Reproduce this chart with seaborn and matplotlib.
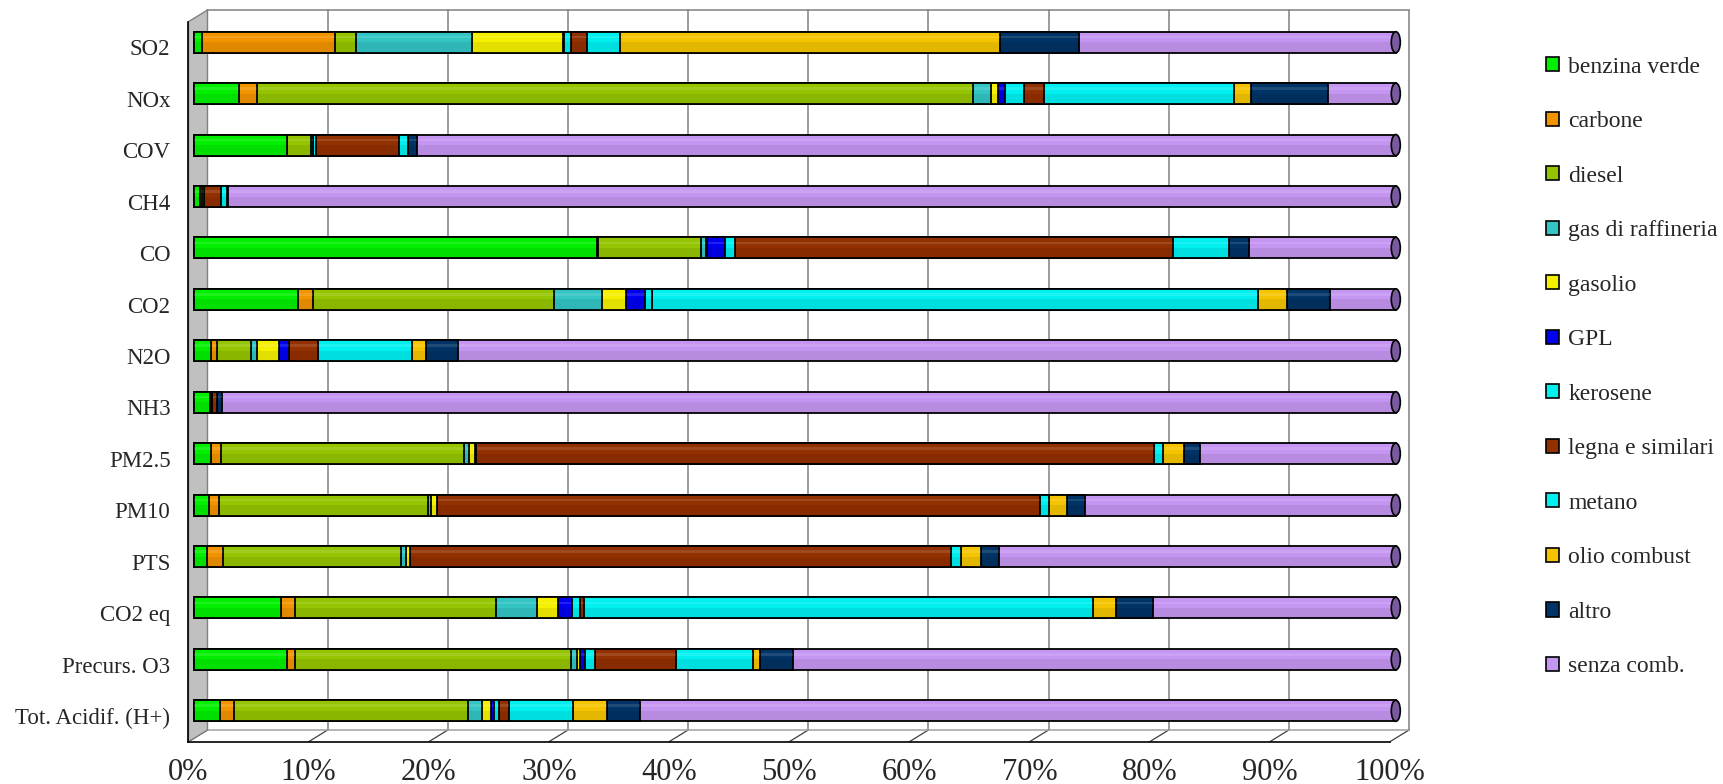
import matplotlib
matplotlib.use("Agg")
import matplotlib.pyplot as plt
import matplotlib.transforms as mtransforms
from matplotlib.patches import Patch, Polygon, Rectangle, Ellipse
from matplotlib.ticker import MultipleLocator, PercentFormatter
import seaborn as sns
import pandas as pd

# Emission shares by source (%), top row first
categories = ["SO2", "NOx", "COV", "CH4", "CO", "CO2", "N2O", "NH3",
              "PM2.5", "PM10", "PTS", "CO2 eq", "Precurs. O3", "Tot. Acidif. (H+)"]

benzina_verde = [0.65, 3.76, 7.7, 0.5, 33.6, 8.6, 1.39, 1.33, 1.42, 1.25, 1.04, 7.2, 7.7, 2.16]
carbone = [11.05, 1.48, 0.05, 0.1, 0.05, 1.27, 0.47, 0.05, 0.8, 0.83, 1.33, 1.16, 0.65, 1.18]
diesel = [1.74, 59.5, 1.96, 0.2, 8.6, 20.05, 2.87, 0.1, 20.2, 17.4, 14.8, 16.76, 23.0, 19.4]
gas_raffineria = [9.66, 1.53, 0.15, 0.0, 0.4, 4.0, 0.45, 0.0, 0.44, 0.25, 0.44, 3.38, 0.44, 1.18]
gasolio = [7.64, 0.58, 0.0, 0.0, 0.1, 1.98, 1.87, 0.0, 0.53, 0.45, 0.3, 1.72, 0.3, 0.74]
gpl = [0.05, 0.62, 0.0, 0.0, 1.48, 1.58, 0.8, 0.0, 0.05, 0.05, 0.05, 1.18, 0.44, 0.3]
kerosene = [0.6, 1.53, 0.3, 0.0, 0.86, 0.6, 0.0, 0.0, 0.0, 0.0, 0.0, 0.65, 0.8, 0.44]
legna = [1.33, 1.68, 6.9, 1.4, 36.5, 0.0, 2.46, 0.4, 56.5, 50.2, 45.0, 0.39, 6.7, 0.83]
metano = [2.75, 15.8, 0.75, 0.5, 4.67, 50.5, 7.82, 0.0, 0.73, 0.73, 0.8, 42.3, 6.44, 5.33]
olio_combust = [31.6, 1.46, 0.0, 0.0, 0.0, 2.37, 1.12, 0.0, 1.72, 1.57, 1.68, 1.9, 0.62, 2.82]
altro = [6.57, 6.33, 0.74, 0.1, 1.65, 3.57, 2.67, 0.4, 1.35, 1.46, 1.54, 3.1, 2.74, 2.72]
senza_comb = [26.4, 5.68, 81.5, 97.2, 12.25, 5.5, 78.06, 97.72, 16.3, 25.9, 33.0, 20.2, 50.1, 62.9]

series_names = ["benzina verde", "carbone", "diesel", "gas di raffineria", "gasolio", "GPL",
                "kerosene", "legna e similari", "metano", "olio combust", "altro", "senza comb."]
colors = ["#00F000", "#F29400", "#95C400", "#33C4C4", "#F5F000", "#0000F0",
          "#00F0F0", "#933000", "#00F0F0", "#F5C400", "#003366", "#C496F2"]

df = pd.DataFrame(dict(zip(series_names, [benzina_verde, carbone, diesel, gas_raffineria, gasolio, gpl,
                                          kerosene, legna, metano, olio_combust, altro, senza_comb])),
                  index=categories)
# 100% stacked: normalise each row, then accumulate left to right
shares = df.div(df.sum(axis=1), axis=0) * 100
cum = shares.cumsum(axis=1)

sns.set_style("white")
plt.rcParams["font.family"] = ["Liberation Serif", "DejaVu Serif"]

fig = plt.figure(figsize=(17.24, 7.84), dpi=100)
ax = fig.add_axes([188.5 / 1724, 42.3 / 784, 1201.5 / 1724, 720 / 784])

# draw the longest cumulative bar first so each shorter one sits on top
for k, (name, col) in enumerate(zip(reversed(series_names), reversed(colors))):
    sns.barplot(x=cum[name].values, y=categories, order=categories, orient="h",
                color=col, saturation=1, width=0.41, edgecolor="black",
                linewidth=1.3, ax=ax, zorder=3 + k * 0.01)

# bars sit in the middle of the 3D depth; add a bit of cylinder shading
bar_shift = mtransforms.ScaledTranslation(0.058, 0.052, fig.dpi_scale_trans)
bars = list(ax.patches)
for p in bars:
    p.set_transform(p.get_data_transform() + bar_shift)
    p.set_clip_on(False)
    z = p.get_zorder()
    x0, y0, w, h = p.get_x(), p.get_y(), p.get_width(), p.get_height()
    shade = Rectangle((x0, y0 + h * 0.5), w, h * 0.45, facecolor="black", alpha=0.07,
                      lw=0, zorder=z + 0.004, clip_on=False)
    shine = Rectangle((x0, y0 + h * 0.2), w, h * 0.12, facecolor="white", alpha=0.12,
                      lw=0, zorder=z + 0.004, clip_on=False)
    for extra in (shade, shine):
        ax.add_patch(extra)
        extra.set_transform(ax.transData + bar_shift)

# dark end caps on the full-length (senza comb.) cylinders
for p in bars[:len(categories)]:
    cap = Ellipse((p.get_x() + p.get_width(), p.get_y() + p.get_height() / 2), 0.75,
                  p.get_height(), facecolor="#7A5A9E", edgecolor="black", lw=1.2,
                  zorder=3.5, clip_on=False)
    ax.add_patch(cap)
    cap.set_transform(ax.transData + bar_shift)

ax.set_xlim(0, 100)
ax.set_ylim(13.5, -0.5)
ax.set_xlabel("")
ax.set_ylabel("")

# back wall / floor of the 3D frame
depth = mtransforms.ScaledTranslation(0.19, 0.117, fig.dpi_scale_trans)
xt = ax.get_xaxis_transform()
ax.xaxis.set_major_locator(MultipleLocator(10))
ax.xaxis.set_minor_locator(MultipleLocator(5))
for v in ax.get_xticks():
    if 0 <= v <= 100:
        ax.plot([v, v], [0, 1], transform=xt + depth, color="#808080", lw=1.1,
                clip_on=False, zorder=1)
        ax.annotate("", xy=(v, 0), xycoords=xt, xytext=(19, 11.7), textcoords="offset pixels",
                    arrowprops=dict(arrowstyle="-", color="#404040", lw=0.9,
                                    shrinkA=0, shrinkB=0), zorder=1)
ax.plot([0, 100], [1, 1], transform=xt + depth, color="#808080", lw=1.1, clip_on=False, zorder=1)
ax.plot([0, 100], [0, 0], transform=xt + depth, color="#A0A0A0", lw=1.1, clip_on=False, zorder=1)

dx, dy = 19 / 1201.5, 11.7 / 720
wall = Polygon([(0, 0), (0, 1), (dx, 1 + dy), (dx, dy)], closed=True, transform=ax.transAxes,
               facecolor="#C0C0C0", edgecolor="#808080", lw=1, clip_on=False, zorder=2)
ax.add_patch(wall)

for s in ["top", "right"]:
    ax.spines[s].set_visible(False)
for s in ["left", "bottom"]:
    ax.spines[s].set_color("black")
    ax.spines[s].set_linewidth(1.2)
    ax.spines[s].set_zorder(4)

ax.xaxis.set_major_formatter(PercentFormatter(xmax=100, decimals=0))
ax.tick_params(axis="x", which="major", direction="out", length=8.5, width=1, color="black",
               labelsize=22, pad=3)
ax.tick_params(axis="x", which="minor", direction="in", length=6, width=1, color="black")
ax.set_yticks([i - 0.5 for i in range(len(categories) + 1)], minor=True)
ax.tick_params(axis="y", which="minor", direction="out", length=8.5, width=1, color="black")
ax.tick_params(axis="y", which="major", length=0, labelsize=16.5, pad=13)

handles = [Patch(facecolor=c, edgecolor="black", lw=1.2) for c in colors]
fig.legend(handles, series_names, loc="center left", bbox_to_anchor=(1546 / 1724, 0.532),
           frameon=False, fontsize=17, labelspacing=1.42, handlelength=0.55, handleheight=0.55,
           handletextpad=0.4, borderpad=0, borderaxespad=0)

fig.savefig("out.png", dpi=100, facecolor="white")
